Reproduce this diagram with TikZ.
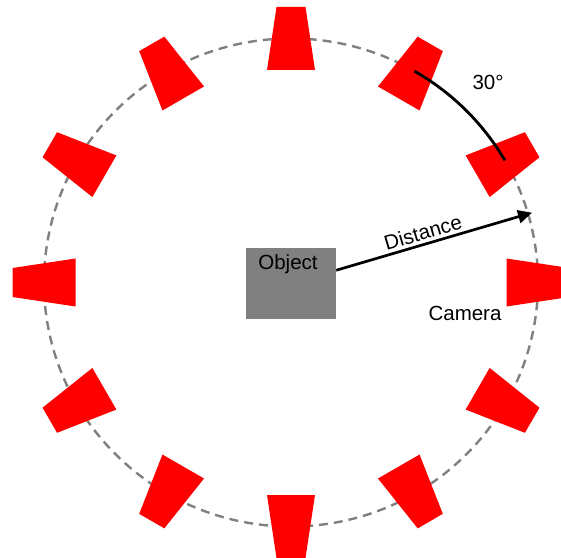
\documentclass[tikz,border=0pt]{standalone}
\usepackage{fontspec}
\setmainfont{Liberation Sans}
\usetikzlibrary{arrows.meta}

\definecolor{camred}{RGB}{255,0,0}
\definecolor{ringgray}{RGB}{128,128,128}

\tikzset{
  ring/.style={draw=ringgray, line width=2.4pt, dash pattern=on 9pt off 6pt},
  cambody/.style={fill=camred, draw=none},
  objbox/.style={fill=ringgray, draw=none, minimum width=90pt, minimum height=71pt, inner sep=0pt},
  lbl/.style={font=\fontsize{20.5}{24}\selectfont, inner sep=0pt},
  distarrow/.style={line width=2.7pt, -{Triangle[length=14pt, width=13pt]}},
  anglearc/.style={line width=2.8pt}
}

\begin{document}
\begin{tikzpicture}[x=1pt, y=1pt]
  \useasboundingbox (0,0) rectangle (561,557);

  % dashed orbit of the cameras
  \coordinate (c) at (291,274.5);
  \draw[ring] (c) ellipse [x radius=247, y radius=244];

  % twelve cameras, one every 30 degrees, wide side facing the object
  \foreach \a in {0,30,...,330} {
    \coordinate (cam\a) at ({291+247*cos(\a)},{274.5+244*sin(\a)});
    \begin{scope}[shift={(cam\a)}, rotate=\a]
      \fill[cambody] (-31.5,-24) -- (31.5,-14.5) -- (31.5,14.5) -- (-31.5,24) -- cycle;
    \end{scope}
  }

  % the object in the middle
  \node[objbox] (obj) at (291,273.5) {};
  \node[lbl] (objlbl) at (288,293) {Object};

  % distance from object to the ring
  \coordinate (tip) at (532,344.3);
  \draw[distarrow] (obj) -- (tip)
    node[lbl, pos=0.46, sloped, above, inner sep=3pt] (distlbl) {Distance};

  % angular spacing between two neighbouring cameras
  \draw[anglearc] (cam60) arc [start angle=60, end angle=30, x radius=247, y radius=244];
  \node[lbl] (anglbl) at (488,475) {30°};

  \node[lbl] (camlbl) at (465,244) {Camera};
\end{tikzpicture}
\end{document}
